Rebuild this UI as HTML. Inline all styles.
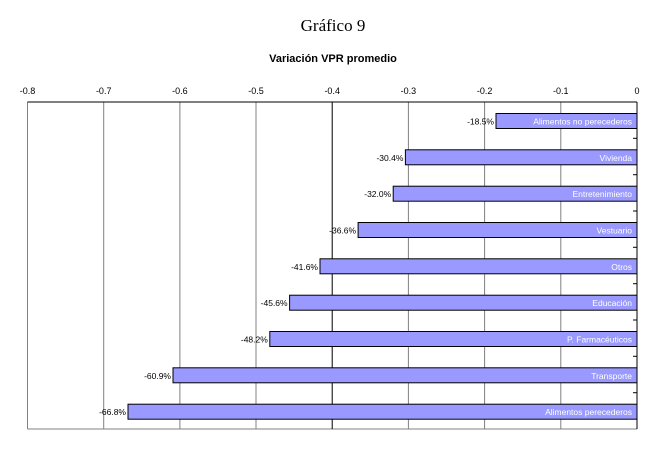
<!DOCTYPE html>
<html><head><meta charset="utf-8"><style>
body{margin:0;background:#fff;width:667px;height:450px;overflow:hidden}
</style></head><body>
<svg width="667" height="450" xmlns="http://www.w3.org/2000/svg" font-family="Liberation Sans, sans-serif">
<text x="333" y="31" font-family="Liberation Serif, serif" font-size="17" text-anchor="middle">Gráfico 9</text>
<text x="333" y="62" font-size="11" font-weight="bold" text-anchor="middle">Variación VPR promedio</text>
<g stroke="#808080" stroke-width="1">
<line x1="27.5" y1="102" x2="27.5" y2="429"/>
<line x1="103.7" y1="102" x2="103.7" y2="429"/>
<line x1="179.9" y1="102" x2="179.9" y2="429"/>
<line x1="256" y1="102" x2="256" y2="429"/>
<line x1="408.4" y1="102" x2="408.4" y2="429"/>
<line x1="484.6" y1="102" x2="484.6" y2="429"/>
<line x1="560.8" y1="102" x2="560.8" y2="429"/>
<line x1="27.5" y1="429" x2="637" y2="429"/>
</g>
<g stroke="#000" stroke-width="1">
<line x1="332.2" y1="102" x2="332.2" y2="429"/>
<line x1="27.5" y1="102" x2="637" y2="102"/>
<line x1="637" y1="102" x2="637" y2="429"/>
<line x1="633" y1="138.3" x2="637" y2="138.3"/>
<line x1="633" y1="174.7" x2="637" y2="174.7"/>
<line x1="633" y1="211" x2="637" y2="211"/>
<line x1="633" y1="247.3" x2="637" y2="247.3"/>
<line x1="633" y1="283.7" x2="637" y2="283.7"/>
<line x1="633" y1="320" x2="637" y2="320"/>
<line x1="633" y1="356.3" x2="637" y2="356.3"/>
<line x1="633" y1="392.7" x2="637" y2="392.7"/>
</g>
<g font-size="9" text-anchor="middle">
<text x="27.5" y="94">-0.8</text><text x="103.7" y="94">-0.7</text><text x="179.9" y="94">-0.6</text>
<text x="256" y="94">-0.5</text><text x="332.2" y="94">-0.4</text><text x="408.4" y="94">-0.3</text>
<text x="484.6" y="94">-0.2</text><text x="560.8" y="94">-0.1</text><text x="637" y="94">0</text>
</g>
<g fill="#9999ff" stroke="#000" stroke-width="1">
<rect x="496" y="113.5" width="141" height="15"/>
<rect x="405.4" y="149.8" width="231.6" height="15"/>
<rect x="393.2" y="186.2" width="243.8" height="15"/>
<rect x="358.1" y="222.5" width="278.9" height="15"/>
<rect x="320" y="258.8" width="317" height="15"/>
<rect x="289.6" y="295.2" width="347.4" height="15"/>
<rect x="269.8" y="331.5" width="367.2" height="15"/>
<rect x="173" y="367.8" width="464" height="15"/>
<rect x="128" y="404.2" width="509" height="15"/>
</g>
<g font-size="8.5" fill="#fff" text-anchor="end">
<text x="632" y="124.5">Alimentos no perecederos</text>
<text x="632" y="160.8">Vivienda</text>
<text x="632" y="197.2">Entretenimiento</text>
<text x="632" y="233.5">Vestuario</text>
<text x="632" y="269.8">Otros</text>
<text x="632" y="306.2">Educación</text>
<text x="632" y="342.5">P. Farmacéuticos</text>
<text x="632" y="378.8">Transporte</text>
<text x="632" y="415.2">Alimentos perecederos</text>
</g>
<g font-size="8.5" fill="#000" text-anchor="end">
<text x="494" y="124.5">-18.5%</text>
<text x="403.4" y="160.8">-30.4%</text>
<text x="391.2" y="197.2">-32.0%</text>
<text x="356.1" y="233.5">-36.6%</text>
<text x="318" y="269.8">-41.6%</text>
<text x="287.6" y="306.2">-45.6%</text>
<text x="267.8" y="342.5">-48.2%</text>
<text x="171" y="378.8">-60.9%</text>
<text x="126" y="415.2">-66.8%</text>
</g>
</svg>
</body></html>
